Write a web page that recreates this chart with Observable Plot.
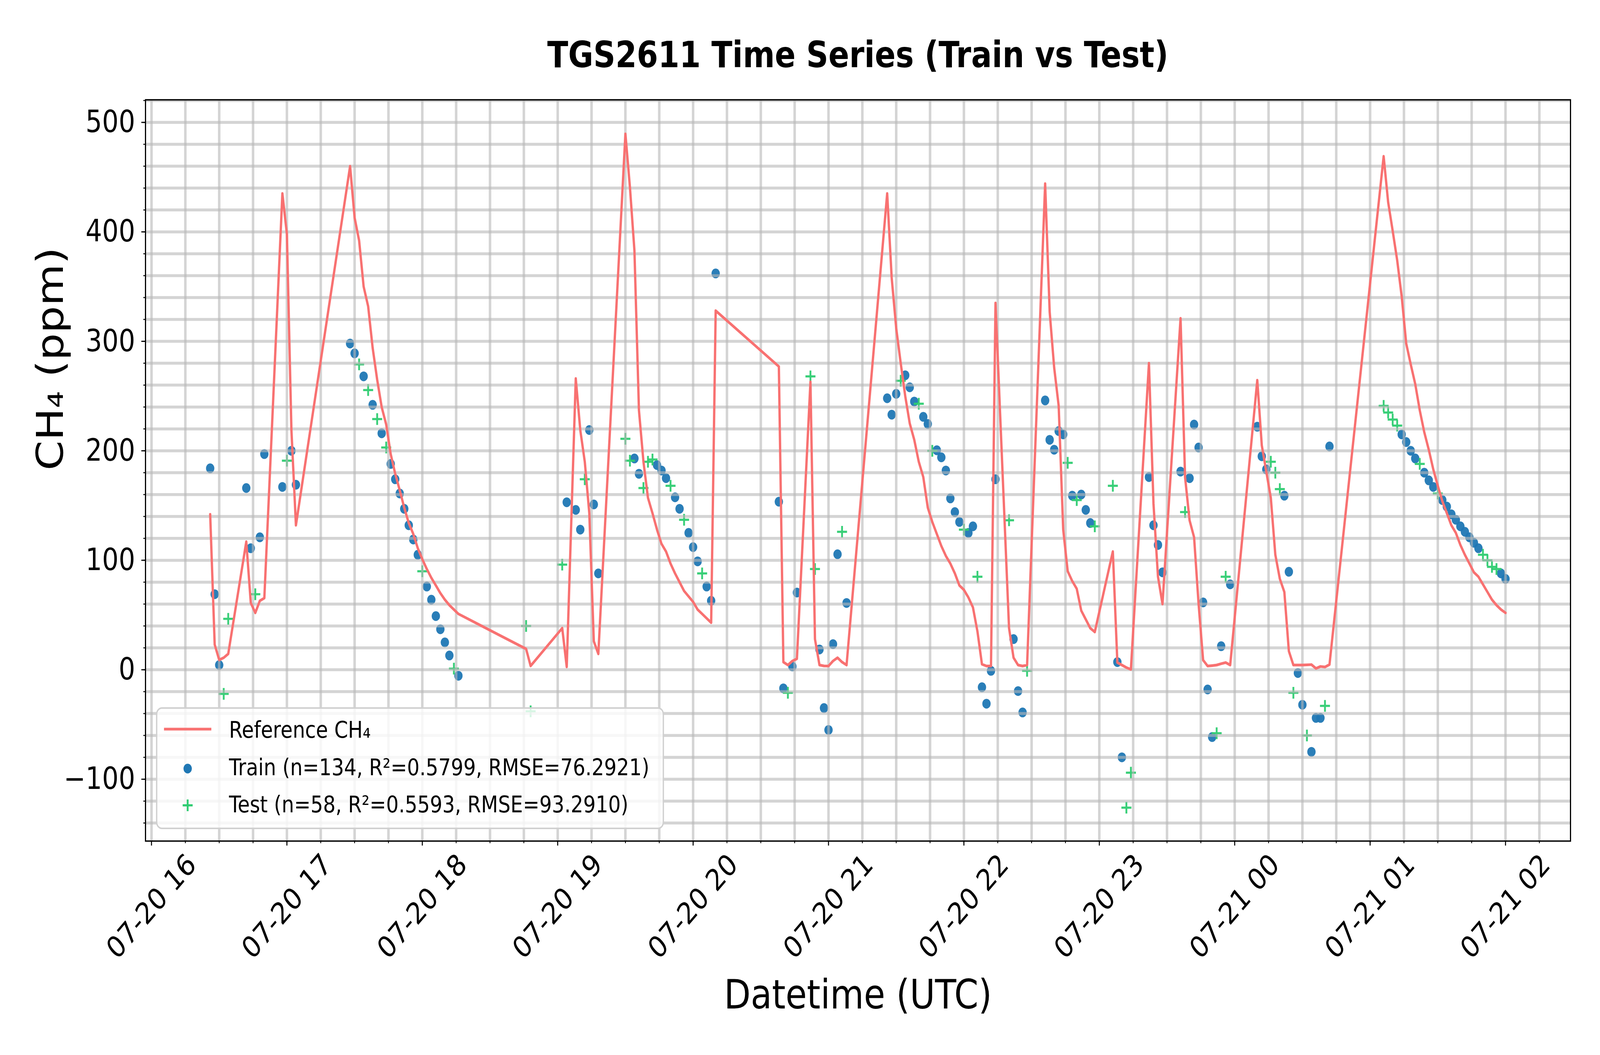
<!DOCTYPE html>
<html>
<head>
<meta charset="utf-8">
<script src="https://cdn.jsdelivr.net/npm/d3@7"></script>
<script src="https://cdn.jsdelivr.net/npm/@observablehq/plot@0.6"></script>
<style>
html, body { margin: 0; padding: 0; background: #fff; overflow: hidden; }
#outer { position: relative; overflow: hidden; }
#page { position: absolute; left: 0; top: 0; width: 4800px; height: 2700px; background: #fff; overflow: hidden; font-family: "DejaVu Sans", sans-serif; transform-origin: 0 0; }
#title { box-sizing: border-box; height: 220px; padding-top: 87px; margin-left: 436px; width: 4275px; text-align: center; font-weight: bold; font-size: 92px; line-height: normal; color: #000; white-space: nowrap; }
#chart svg { display: block; max-width: none !important; }
#legend { position: absolute; left: 460px; top: 1800px; overflow: visible; }
</style>
</head>
<body>
<div id="outer">
<div id="page">
  <div id="title"></div>
  <div id="chart"></div>
  <svg id="legend" width="1540" height="330"></svg>
</div>
</div>
<script>
// ---- text ----
const titleText = "TGS2611 Time Series (Train vs Test)";
const xLabel = "Datetime (UTC)";
const yLabel = "CH₄ (ppm)";
const legendLabels = [
  "Reference CH₄",
  "Train (n=134, R²=0.5799, RMSE=76.2921)",
  "Test (n=58, R²=0.5593, RMSE=93.2910)"
];

// ---- data: minutes after 2025-07-20 16:00 UTC ----
const refMinutes = [26,28,30,32,34,42,44,46,48,50,58,60,62,64,
  88,90,92,94,96,98,100,102,104,106,108,110,112,114,116,118,120,122,124,126,128,130,132,134,136,
  166,168,182,184,188,190,192,194,196,198,
  210,212,214,216,218,220,222,224,226,228,230,232,234,236,238,240,242,244,246,248,250,
  278,280,282,284,286,292,294,296,298,300,302,304,306,308,
  326,328,330,332,334,336,338,340,342,344,346,348,350,352,354,356,358,360,362,364,366,368,370,372,374,
  380,382,384,386,388,
  396,398,400,402,404,406,408,410,412,414,416,418,
  426,428,430,432,434,442,444,446,448,
  456,458,460,462,464,466,468,470,472,474,476,478,
  490,492,494,496,498,500,502,504,506,508,510,512,514,516,518,520,522,
  546,548,550,552,554,556,558,560,562,564,566,568,570,572,574,576,578,580,582,584,586,588,590,592,594,596,598,600];
const refValues = [142,23,9,11,14.5,117,61,52,63,65.5,435,398,219,132,
  460,413,392,350,332,294,265,240,224,197,179,164,148,134,124,111,101,92,84,77,70,64,59,55,51,
  19,3.5,38,2.6,266,219,190,143,26,14.5,
  489.5,441,383,237,190,157,143,128,115,108,97,88,80,72,67,62,55,51,47,43,328,
  277,7,4.3,8,10,263,28,4.3,3.5,3.4,8,11,7,4.3,
  435,358,312,280,250,225,210,190,176,148,135,124,113,104,97,88,77,73,66,57,35,5,3.4,3.4,335,
  38,11,4.3,3.4,4.3,
  444,327,276,241,128,90,81,74,54,46,38,34.5,
  108,6.6,4.3,2,0.3,280,152,85,60,
  321,176,136.5,121,60,8.8,3.4,3.8,4.3,5.5,6.6,4.3,
  264.5,205,181,157,105,83,71,17,4.3,4.3,4.3,4.5,4.7,1.2,3,2.5,4.7,
  469,427,401,374,341,298,279,261,237,217,201,183,168,154,143,132,125,114,105,97,89,85,78,71,64,59,55,52];

const trainMinutes = [26,28,30,42,44,48,50,58,62,64,
  88,90,94,98,102,106,108,110,112,114,116,118,122,124,126,128,130,132,136,
  184,188,190,194,196,198,
  214,216,224,226,228,232,234,238,240,242,246,248,250,
  278,280,284,286,296,298,300,302,304,308,
  326,328,330,334,336,338,342,344,348,350,352,354,356,358,362,364,
  368,370,372,374,382,384,386,
  396,398,400,402,404,408,412,414,416,428,430,
  442,444,446,448,456,460,462,464,466,468,470,474,478,
  490,492,494,502,504,508,510,514,516,518,522,
  554,556,558,560,564,566,568,572,574,576,578,580,582,584,586,588,598,600];
const trainValues = [184,69,4.3,166,111,121,197,167,200,169,
  298,289,268,242,216,188,174,161,147,132,119,105,76,64,49,37,25,13,-5.5,
  153,146,128,219,151,88,
  193,179,187,182,175,157.5,147,125,112,99,76,63,362,
  153.5,-17,3,70.5,18.5,-35,-55,23.4,105.5,61,
  248,233,252,269,258,245,231,224.5,200.5,194,182,156.5,144,135,125,131,
  -16,-31,-1,174,28,-19.5,-39,
  246,210,201,218,215,159,160,146,134,7,-80,
  176,132,114,89,181,175,224,203,61.5,-18,-61.5,21.5,78,
  222,195,183,159,89.5,-3,-32,-75,-44,-44,204,
  215,208,200,193,180,173,167,155,149,142,137,131,126,121,116,111,88,83];

const testMinutes = [32,34,46,60,92,96,100,104,120,134,166,168,182,192,
  210,212,218,220,222,230,236,244,282,292,294,306,
  332,340,346,360,366,380,388,406,410,418,426,432,434,
  458,472,476,496,498,500,506,512,520,
  546,548,550,552,562,570,590,592,594,596];
const testValues = [-22,46.5,69,191,279,255.5,229,203,90,1,40,-38,96,174,
  211,191,166,190,192,168,137,88,-21,268,92,126,
  264,243,200,128,85,136.5,-1,189,155,131,168,-126,-94,
  144,-58,85,190,180,165,-21,-60,-33,
  241,235,228.5,223,188,161,105,100,94,92];

// ---- axes ----
const yMajorTicks = [-100, 0, 100, 200, 300, 400, 500];
const yMinorTicks = [-140,-120,-100,-80,-60,-40,-20,0,20,40,60,80,100,120,140,160,180,200,220,240,260,280,300,320,340,360,380,400,420,440,460,480,500,520];
const xMajorHours = [0,1,2,3,4,5,6,7,8,9,10];      // hours after 16:00
const xStartMinutes = -2.66, xEndMinutes = 628.8;
const yDomain = [-156.5, 520.6];

const colors = { ref: "#f87171", train: "#1f77b4", test: "#2ecc71" };

const base = Date.UTC(2025, 6, 20, 16, 0, 0);
const toDate = m => new Date(base + m * 60000);
const refData = refMinutes.map((m, i) => ({ t: toDate(m), v: refValues[i] }));
const trainData = trainMinutes.map((m, i) => ({ t: toDate(m), v: trainValues[i] }));
const testData = testMinutes.map((m, i) => ({ t: toDate(m), v: testValues[i] }));

const xDomain = [toDate(xStartMinutes), toDate(xEndMinutes)];
const hourTicks = xMajorHours.map(h => toDate(h * 60));
const quarterTicks = d3.utcMinute.every(15).range(toDate(0), xDomain[1]);
const fmtX = d3.utcFormat("%m-%d %H");
const fmtY = d => d < 0 ? "\u2212" + Math.abs(d) : String(d);

const plusSymbol = {
  draw(ctx, size) {
    const r = Math.sqrt(size / Math.PI);
    ctx.moveTo(-r, 0); ctx.lineTo(r, 0);
    ctx.moveTo(0, -r); ctx.lineTo(0, r);
  }
};

const gridStyle = { stroke: "#b8b8b8", strokeOpacity: 0.6, strokeWidth: 7.5 };

const chart = Plot.plot({
  width: 4800,
  height: 2480,
  marginTop: 35,
  marginBottom: 548,
  marginLeft: 436,
  marginRight: 89,
  style: { fontFamily: '"DejaVu Sans", sans-serif', background: "white", color: "black", overflow: "visible" },
  x: { type: "utc", domain: xDomain },
  y: { domain: yDomain },
  marks: [
    Plot.dot(trainData, { x: "t", y: "v", r: 12.5, fill: colors.train, fillOpacity: 0.95 }),
    Plot.dot(testData, { x: "t", y: "v", r: 15, symbol: plusSymbol, fill: "none", stroke: colors.test, strokeWidth: 5.5, strokeOpacity: 0.95 }),
    Plot.gridX(quarterTicks, gridStyle),
    Plot.gridY(yMinorTicks, gridStyle),
    Plot.line(refData, { x: "t", y: "v", stroke: colors.ref, strokeWidth: 7, strokeLinejoin: "round" }),
    Plot.axisX(quarterTicks, { tickSize: 6, strokeWidth: 2.5, tickFormat: () => "", label: null }),
    Plot.axisX(hourTicks, { tickSize: 12, strokeWidth: 3, tickFormat: () => "", label: null }),
    Plot.axisY(yMinorTicks, { tickSize: 6, strokeWidth: 2.5, tickFormat: () => "", label: null }),
    Plot.axisY(yMajorTicks, { tickSize: 12, strokeWidth: 3, tickPadding: 19, fontSize: 78, tickFormat: fmtY, label: null }),
    Plot.text(hourTicks, { x: d => d, text: d => fmtX(d), frameAnchor: "bottom", dy: 168, rotate: -45, textAnchor: "middle", lineAnchor: "middle", fontSize: 76, fill: "black" }),
    Plot.text([xLabel], { frameAnchor: "bottom", dy: 395, fontSize: 104, lineAnchor: "middle", fill: "black" }),
    Plot.text([yLabel], { frameAnchor: "left", dx: -283, rotate: -90, fontSize: 110, lineAnchor: "middle", fill: "black" }),
    Plot.frame({ stroke: "black", strokeWidth: 3.5 })
  ]
});

document.getElementById("title").textContent = titleText;
document.getElementById("chart").appendChild(chart);

// ---- legend (inside the axes, lower left) ----
const ns = "http://www.w3.org/2000/svg";
const lg = document.getElementById("legend");
function el(name, attrs, text) {
  const e = document.createElementNS(ns, name);
  for (const k in attrs) e.setAttribute(k, attrs[k]);
  if (text != null) e.textContent = text;
  lg.appendChild(e);
  return e;
}
el("rect", { x: 10, y: 12, width: 1520, height: 308, rx: 16, fill: "white", "fill-opacity": 0.8, stroke: "#d0d0d0", "stroke-width": 4 });
el("line", { x1: 32, x2: 174, y1: 66, y2: 66, stroke: colors.ref, "stroke-width": 7 });
el("circle", { cx: 103, cy: 167, r: 12.5, fill: colors.train });
el("path", { d: "M88,261H118M103,246V276", stroke: colors.test, "stroke-width": 5.5, fill: "none" });
const baselines = [88, 184, 279];
legendLabels.forEach((t, i) => el("text", { x: 227, y: baselines[i], "font-size": 59, "font-family": "DejaVu Sans, sans-serif", fill: "black" }, t));

// ---- fit the 4800x2700 composition to the window ----
function fit() {
  const w = window.innerWidth || 4800, h = window.innerHeight || 2700;
  const sx = w / 4800, sy = h / 2700;
  const page = document.getElementById("page");
  page.style.transform = `scale(${sx}, ${sy})`;
  const outer = document.getElementById("outer");
  outer.style.width = (4800 * sx) + "px";
  outer.style.height = (2700 * sy) + "px";
}
fit();
window.addEventListener("resize", fit);
</script>
</body>
</html>
